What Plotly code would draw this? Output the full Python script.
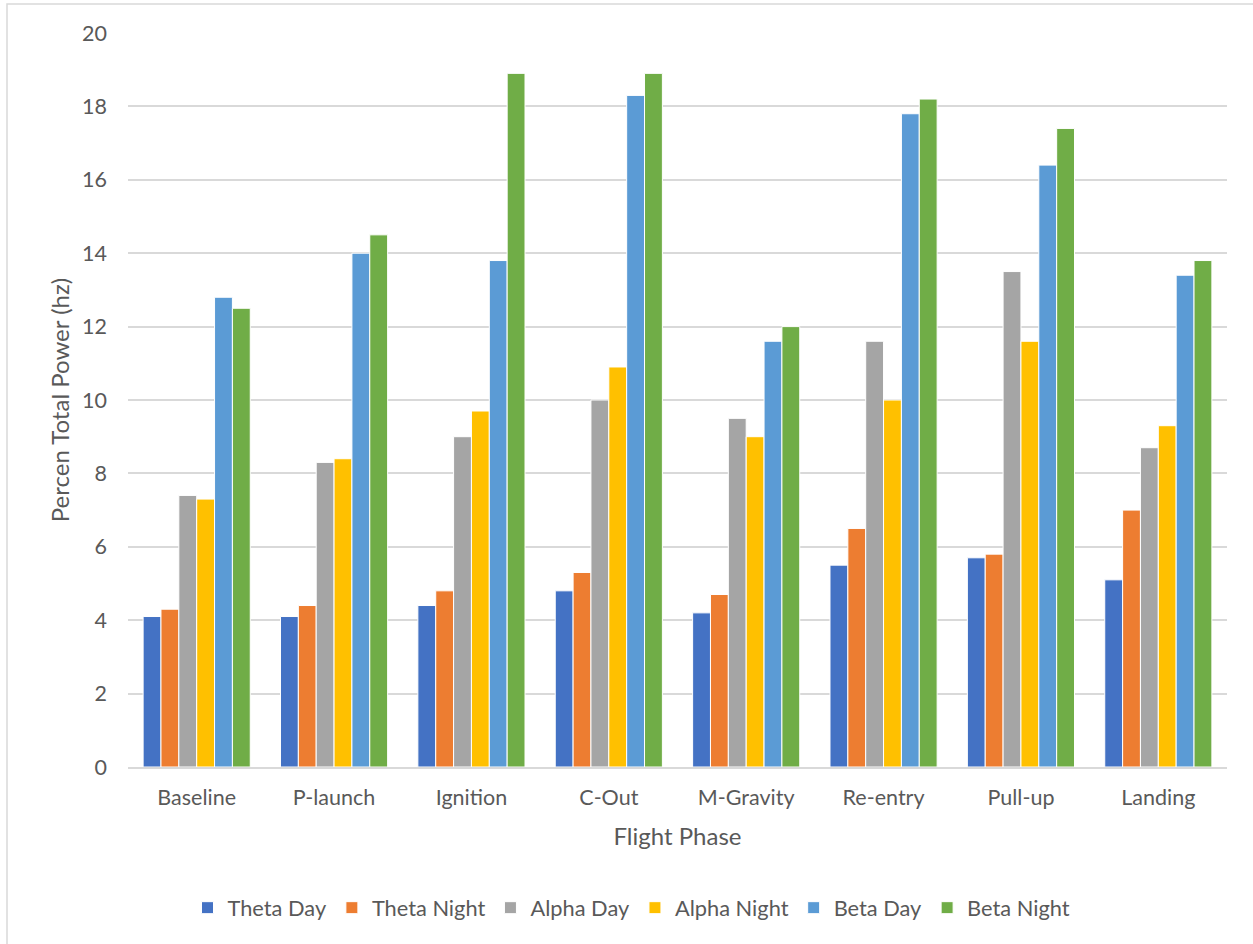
import plotly.graph_objects as go

categories = ["Baseline", "P-launch", "Ignition", "C-Out", "M-Gravity", "Re-entry", "Pull-up", "Landing"]
theta_day = [4.1, 4.1, 4.4, 4.8, 4.2, 5.5, 5.7, 5.1]
theta_night = [4.3, 4.4, 4.8, 5.3, 4.7, 6.5, 5.8, 7.0]
alpha_day = [7.4, 8.3, 9.0, 10.0, 9.5, 11.6, 13.5, 8.7]
alpha_night = [7.3, 8.4, 9.7, 10.9, 9.0, 10.0, 11.6, 9.3]
beta_day = [12.8, 14.0, 13.8, 18.3, 11.6, 17.8, 16.4, 13.4]
beta_night = [12.5, 14.5, 18.9, 18.9, 12.0, 18.2, 17.4, 13.8]

series = [
    ("Theta Day", theta_day, "#4472C4"),
    ("Theta Night", theta_night, "#ED7D31"),
    ("Alpha Day", alpha_day, "#A5A5A5"),
    ("Alpha Night", alpha_night, "#FFC000"),
    ("Beta Day", beta_day, "#5B9BD5"),
    ("Beta Night", beta_night, "#70AD47"),
]

FONT = "Lato"
GRAY = "#595959"

fig = go.Figure()
for name, vals, color in series:
    fig.add_trace(go.Bar(
        name=name, x=categories, y=vals,
        marker=dict(color=color, line=dict(color="white", width=1)),
    ))

W, H = 1253, 944
L, R, T, B = 128, 26, 33, 177
pw = W - L - R
ph = H - T - B

fig.update_layout(
    width=W, height=H,
    margin=dict(l=L, r=R, t=T, b=B),
    paper_bgcolor="white", plot_bgcolor="white",
    barmode="group", bargap=0.22, bargroupgap=0.0,
    font=dict(family=FONT, color=GRAY, size=21),
    showlegend=True,
    legend=dict(
        orientation="h", xref="container", yref="container",
        x=0.504, xanchor="center", y=(H - 908) / H, yanchor="middle",
        font=dict(family=FONT, size=21.8, color=GRAY),
        itemwidth=30, traceorder="normal",
    ),
    xaxis=dict(
        showline=True, linecolor="#D9D9D9", linewidth=1.5,
        showgrid=False, ticks="", tickfont=dict(size=21.5, color=GRAY),
        ticklabelstandoff=10,
        title=dict(text="Flight Phase", font=dict(size=24, color=GRAY), standoff=20),
    ),
    yaxis=dict(
        range=[0, 20], dtick=2, showgrid=True, gridcolor="#D9D9D9", gridwidth=1.5,
        zeroline=False, showline=False, ticks="", tickfont=dict(size=21.5, color=GRAY),
        ticklabelstandoff=20,
        title=dict(text="Percen Total Power (hz)", font=dict(size=24, color=GRAY), standoff=5),
    ),
    shapes=[dict(
        type="rect", xref="paper", yref="paper",
        x0=(7 - L) / pw, x1=(W + 20 - L) / pw,
        y0=-(H + 20 - T - ph) / ph, y1=1 + (T - 4) / ph,
        line=dict(color="#D9D9D9", width=1.5), fillcolor="rgba(0,0,0,0)", layer="below",
    )],
)

fig.write_html("out.html")
